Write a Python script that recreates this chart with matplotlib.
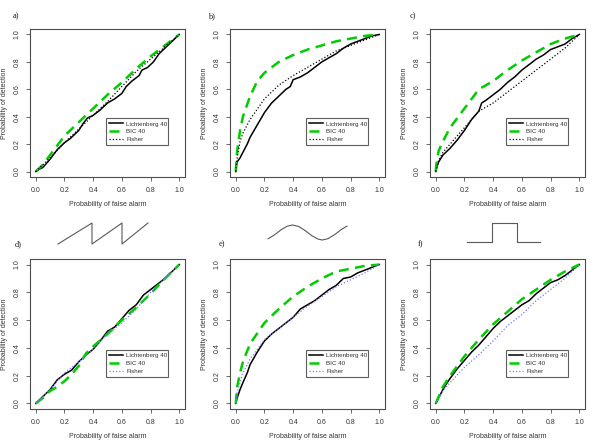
import matplotlib.pyplot as plt

plt.rcParams['font.family'] = ['Liberation Sans', 'DejaVu Sans']

# ROC curves: (false alarm, detection) per panel
lich_x = {
    'a': [0, 0.03, 0.05, 0.1, 0.15, 0.2, 0.24, 0.27, 0.3, 0.33, 0.36, 0.4, 0.45, 0.5, 0.55, 0.6, 0.63, 0.67, 0.72, 0.74, 0.78, 0.82, 0.86, 0.9, 0.95, 1],
    'b': [0, 0.005, 0.01, 0.03, 0.05, 0.08, 0.1, 0.15, 0.2, 0.25, 0.3, 0.35, 0.38, 0.4, 0.45, 0.5, 0.55, 0.6, 0.65, 0.7, 0.75, 0.8, 0.85, 0.9, 0.95, 1],
    'c': [0, 0.01, 0.02, 0.05, 0.08, 0.1, 0.15, 0.2, 0.25, 0.3, 0.32, 0.35, 0.4, 0.45, 0.5, 0.55, 0.6, 0.65, 0.7, 0.75, 0.8, 0.85, 0.9, 0.95, 1],
    'd': [0, 0.05, 0.1, 0.15, 0.2, 0.25, 0.3, 0.35, 0.4, 0.45, 0.5, 0.55, 0.6, 0.65, 0.7, 0.75, 0.8, 0.85, 0.9, 0.95, 1],
    'e': [0, 0.005, 0.01, 0.03, 0.05, 0.08, 0.1, 0.15, 0.2, 0.25, 0.3, 0.35, 0.4, 0.45, 0.5, 0.55, 0.6, 0.65, 0.7, 0.75, 0.8, 0.85, 0.9, 0.95, 1],
    'f': [0, 0.03, 0.05, 0.08, 0.1, 0.15, 0.2, 0.25, 0.3, 0.35, 0.4, 0.45, 0.5, 0.55, 0.6, 0.65, 0.7, 0.75, 0.8, 0.85, 0.9, 0.95, 1],
}
lich_y = {
    'a': [0, 0.02, 0.03, 0.09, 0.16, 0.21, 0.24, 0.27, 0.3, 0.35, 0.39, 0.41, 0.45, 0.5, 0.53, 0.57, 0.62, 0.66, 0.7, 0.74, 0.76, 0.8, 0.86, 0.9, 0.95, 1],
    'b': [0, 0.04, 0.07, 0.1, 0.14, 0.2, 0.25, 0.34, 0.43, 0.5, 0.55, 0.6, 0.62, 0.67, 0.69, 0.72, 0.76, 0.8, 0.83, 0.86, 0.9, 0.93, 0.95, 0.97, 0.99, 1],
    'c': [0, 0.04, 0.07, 0.12, 0.15, 0.17, 0.23, 0.3, 0.38, 0.44, 0.5, 0.52, 0.56, 0.6, 0.65, 0.69, 0.74, 0.78, 0.82, 0.85, 0.89, 0.91, 0.93, 0.97, 1],
    'd': [0, 0.05, 0.1, 0.17, 0.21, 0.24, 0.3, 0.35, 0.39, 0.45, 0.52, 0.55, 0.61, 0.67, 0.71, 0.78, 0.82, 0.86, 0.9, 0.95, 1],
    'e': [0, 0.02, 0.04, 0.1, 0.15, 0.22, 0.28, 0.37, 0.45, 0.5, 0.54, 0.58, 0.62, 0.68, 0.71, 0.74, 0.78, 0.82, 0.85, 0.9, 0.91, 0.94, 0.96, 0.98, 1],
    'f': [0, 0.06, 0.1, 0.15, 0.18, 0.25, 0.31, 0.37, 0.42, 0.48, 0.54, 0.59, 0.63, 0.67, 0.71, 0.74, 0.79, 0.83, 0.87, 0.89, 0.92, 0.96, 1],
}
bic_x = {
    'a': [0, 0.02, 0.05, 0.1, 0.2, 0.3, 0.4, 0.5, 0.6, 0.7, 0.8, 0.9, 1],
    'b': [0, 0.005, 0.01, 0.03, 0.05, 0.1, 0.15, 0.2, 0.3, 0.4, 0.5, 0.6, 0.7, 0.8, 0.9, 1],
    'c': [0, 0.005, 0.02, 0.05, 0.1, 0.2, 0.3, 0.4, 0.5, 0.6, 0.7, 0.8, 0.9, 1],
    'd': [0, 0.05, 0.1, 0.15, 0.2, 0.25, 0.3, 0.35, 0.4, 0.5, 0.6, 0.7, 0.8, 0.9, 1],
    'e': [0, 0.005, 0.01, 0.03, 0.05, 0.1, 0.2, 0.3, 0.4, 0.5, 0.6, 0.7, 0.8, 0.9, 1],
    'f': [0, 0.05, 0.1, 0.2, 0.3, 0.4, 0.5, 0.6, 0.7, 0.8, 0.9, 1],
}
bic_y = {
    'a': [0, 0.02, 0.05, 0.12, 0.26, 0.36, 0.46, 0.56, 0.65, 0.75, 0.84, 0.92, 1],
    'b': [0, 0.08, 0.15, 0.3, 0.4, 0.55, 0.66, 0.72, 0.8, 0.85, 0.89, 0.92, 0.95, 0.97, 0.99, 1],
    'c': [0, 0.06, 0.15, 0.22, 0.32, 0.46, 0.6, 0.66, 0.74, 0.81, 0.87, 0.93, 0.97, 1],
    'd': [0, 0.04, 0.09, 0.12, 0.16, 0.21, 0.27, 0.36, 0.41, 0.5, 0.6, 0.69, 0.79, 0.9, 1],
    'e': [0, 0.06, 0.12, 0.22, 0.3, 0.43, 0.58, 0.68, 0.77, 0.84, 0.9, 0.95, 0.97, 0.99, 1],
    'f': [0, 0.12, 0.2, 0.34, 0.46, 0.57, 0.66, 0.75, 0.82, 0.89, 0.95, 1],
}
fish_x = {
    'a': [0, 0.1, 0.2, 0.3, 0.4, 0.5, 0.6, 0.7, 0.8, 0.9, 1],
    'b': [0, 0.005, 0.01, 0.03, 0.05, 0.1, 0.2, 0.3, 0.4, 0.5, 0.6, 0.7, 0.8, 0.9, 1],
    'c': [0, 0.02, 0.05, 0.1, 0.2, 0.3, 0.4, 0.5, 0.6, 0.7, 0.8, 0.9, 1],
    'd': [0, 0.1, 0.2, 0.3, 0.4, 0.5, 0.6, 0.7, 0.8, 0.9, 1],
    'e': [0, 0.005, 0.01, 0.03, 0.05, 0.1, 0.2, 0.3, 0.4, 0.5, 0.6, 0.7, 0.8, 0.9, 1],
    'f': [0, 0.05, 0.1, 0.2, 0.3, 0.4, 0.5, 0.6, 0.7, 0.8, 0.9, 1],
}
fish_y = {
    'a': [0, 0.1, 0.21, 0.31, 0.41, 0.51, 0.62, 0.73, 0.82, 0.91, 1],
    'b': [0, 0.06, 0.1, 0.22, 0.28, 0.38, 0.53, 0.63, 0.7, 0.76, 0.82, 0.88, 0.92, 0.96, 1],
    'c': [0, 0.08, 0.14, 0.2, 0.32, 0.44, 0.5, 0.58, 0.66, 0.74, 0.82, 0.9, 1],
    'd': [0, 0.1, 0.22, 0.3, 0.39, 0.5, 0.58, 0.68, 0.8, 0.9, 1],
    'e': [0, 0.05, 0.08, 0.15, 0.22, 0.32, 0.46, 0.54, 0.62, 0.7, 0.77, 0.84, 0.89, 0.94, 1],
    'f': [0, 0.09, 0.15, 0.26, 0.35, 0.45, 0.56, 0.64, 0.74, 0.82, 0.9, 1],
}

ticks = [0.0, 0.2, 0.4, 0.6, 0.8, 1.0]
tick_labels = ['0.0', '0.2', '0.4', '0.6', '0.8', '1.0']
legend_labels = ['Lichtenberg 40', 'BIC 40', 'Fisher']

# waveform icons above the bottom row
saw_x = [0, 34, 34, 64, 64, 90]
saw_y = [0, 1, 0, 1, 0, 1]
sine_x = [0, 6.4, 12.9, 18.4, 23.7, 29.5, 36.0, 42.4, 48.0, 52.3, 57.8, 64.3, 70.7, 76.2]
sine_y = [-0.84, -0.30, 0.39, 0.84, 1.0, 0.81, 0.24, -0.44, -0.87, -1.0, -0.83, -0.28, 0.40, 0.85]
sq_x = [0, 25, 25, 50, 50, 73]
sq_y = [0, 0, 1, 1, 0, 0]

W, H = 600, 445
fig = plt.figure(figsize=(6, 4.45), dpi=100)

col_left = [30, 230, 430]
rows = [(29, 177), (259, 409)]
fs = 5.0
grey = '0.3'

panels = ['a', 'b', 'c', 'd', 'e', 'f']
for i, p in enumerate(panels):
    r, c = divmod(i, 3)
    top, bot = rows[r]
    left = col_left[c]
    ax = fig.add_axes([left / W, 1 - bot / H, 155 / W, (bot - top) / H])
    fish_col = 'black' if r == 0 else '#7777ff'
    l1, = ax.plot(lich_x[p], lich_y[p], color='black', lw=1.1)
    l2, = ax.plot(bic_x[p], bic_y[p], color='#00cc00', lw=1.8, ls=(0, (4, 2.5)))
    l3, = ax.plot(fish_x[p], fish_y[p], color=fish_col, lw=0.9, ls=(0, (1, 1.6)))
    ax.set_xlim(-0.04, 1.04)
    ax.set_ylim(-0.04, 1.04)
    ax.set_xticks(ticks)
    ax.set_xticklabels(tick_labels)
    ax.set_yticks(ticks)
    ax.set_yticklabels(tick_labels, rotation=90, va='center')
    ax.tick_params(labelsize=fs, length=3, width=0.6, color=grey, labelcolor='0.2', pad=4)
    for s in ax.spines.values():
        s.set_color(grey)
        s.set_linewidth(0.8)
    ax.set_xlabel('Probability of false alarm', fontsize=fs, color='0.2', labelpad=5)
    ax.set_ylabel('Probability of detection', fontsize=fs, color='0.2', labelpad=4)
    leg = ax.legend([l1, l2, l3], legend_labels, loc='lower left',
                    bbox_to_anchor=(0.49, 0.215, 0.40, 0.19), mode='expand',
                    fontsize=4.5, frameon=True, fancybox=False, handlelength=2.2,
                    borderpad=0.45, labelspacing=0.4, handletextpad=0.6,
                    borderaxespad=0)
    leg.get_frame().set_edgecolor('0.2')
    leg.get_frame().set_linewidth(0.8)
    for t in leg.get_texts():
        t.set_color('0.2')

# panel letters
letters = [(16, 16, 'a)'), (212, 16, 'b)'), (413, 16, 'c)'),
           (18, 244, 'd)'), (222, 244, 'e)'), (421, 244, 'f)')]
for x, y, s in letters:
    fig.text(x / W, 1 - y / H, s, fontsize=6, family='Liberation Serif',
             ha='center', va='center', color='0.1')

# icons: (left, top, width, height) in pixels
icons = [((58, 223, 90, 21), saw_x, saw_y),
         ((268, 225, 79, 15), sine_x, sine_y),
         ((467, 223, 73, 19), sq_x, sq_y)]
for (x, y, w, h), xs, ys in icons:
    iax = fig.add_axes([x / W, 1 - (y + h) / H, w / W, h / H])
    iax.plot(xs, ys, color='0.35', lw=0.8, clip_on=False)
    iax.set_xlim(min(xs), max(xs))
    iax.set_ylim(min(ys), max(ys))
    iax.axis('off')

plt.savefig('out.png', dpi=100)
